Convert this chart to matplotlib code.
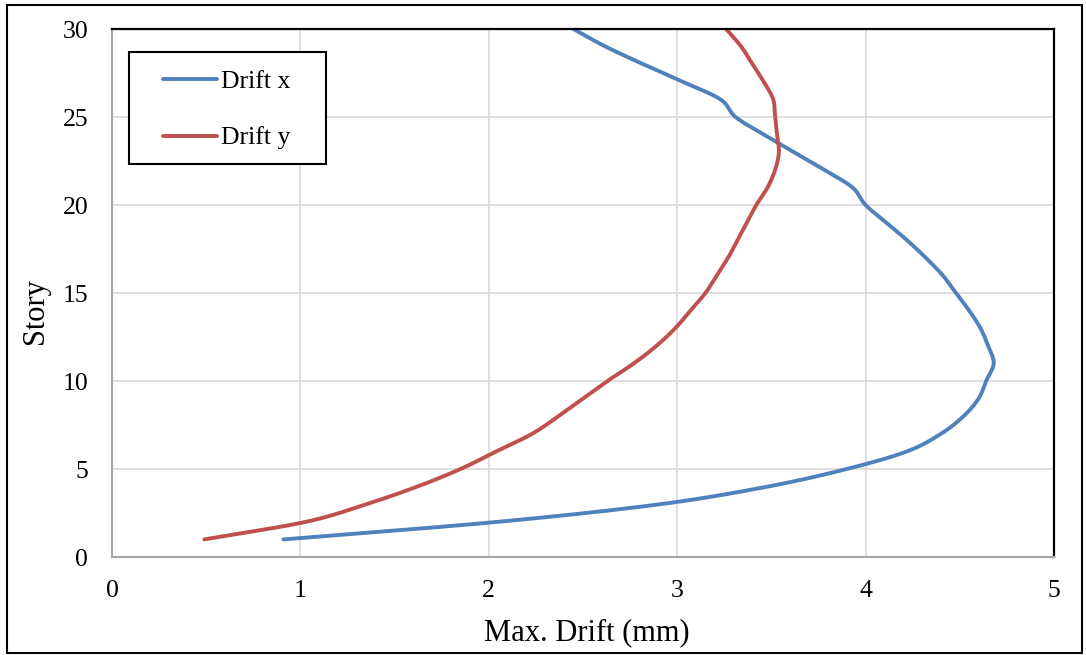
import numpy as np
import matplotlib
matplotlib.use("Agg")
import matplotlib.pyplot as plt
from matplotlib.patches import Rectangle

# story numbers and peak drift per story (mm)
stories = list(range(1, 31))
drift_x = [0.91, 2.05, 2.91, 3.48, 3.90, 4.22, 4.40, 4.52, 4.60, 4.64,
           4.68, 4.65, 4.61, 4.55, 4.48, 4.41, 4.32, 4.22, 4.11, 4.00,
           3.93, 3.78, 3.62, 3.46, 3.31, 3.23, 3.03, 2.82, 2.62, 2.45]
drift_y = [0.49, 1.03, 1.35, 1.62, 1.85, 2.04, 2.23, 2.37, 2.50, 2.63,
           2.77, 2.89, 2.99, 3.07, 3.15, 3.21, 3.27, 3.32, 3.37, 3.42,
           3.48, 3.52, 3.54, 3.53, 3.52, 3.51, 3.46, 3.40, 3.34, 3.26]
x_ticks = [0, 1, 2, 3, 4, 5]
y_ticks = [0, 5, 10, 15, 20, 25, 30]

BLUE = '#4f81bd'
RED = '#c0504d'


def smooth(xs, ys, n=20):
    # Catmull-Rom through every point, like a spreadsheet "smoothed line"
    p = np.column_stack([xs, ys]).astype(float)
    p = np.vstack([2 * p[0] - p[1], p, 2 * p[-1] - p[-2]])
    out = []
    t = np.linspace(0, 1, n, endpoint=False)[:, None]
    for i in range(1, len(p) - 2):
        p0, p1, p2, p3 = p[i - 1], p[i], p[i + 1], p[i + 2]
        seg = 0.5 * ((2 * p1) + (-p0 + p2) * t + (2 * p0 - 5 * p1 + 4 * p2 - p3) * t ** 2
                     + (-p0 + 3 * p1 - 3 * p2 + p3) * t ** 3)
        out.append(seg)
    out.append(p[-2][None, :])
    out = np.vstack(out)
    return out[:, 0], out[:, 1]


plt.rcParams['font.family'] = ['Liberation Serif', 'DejaVu Serif']

fig = plt.figure(figsize=(10.86, 6.55), dpi=100)
ax = fig.add_axes([0.1031, 0.1496, 0.8674, 0.8061])

sx, sy = smooth(drift_x, stories)
ax.plot(sx, sy, color=BLUE, lw=2.8, solid_capstyle='round')
sx, sy = smooth(drift_y, stories)
ax.plot(sx, sy, color=RED, lw=2.8, solid_capstyle='round')

ax.set_xlim(0, 5)
ax.set_ylim(0, 30)
ax.set_xticks(x_ticks)
ax.set_yticks(y_ticks)
ax.grid(True, color='#d9d9d9', lw=1.2)
ax.set_axisbelow(True)
ax.tick_params(length=0, labelsize=18.5)
ax.tick_params(axis='y', pad=17)
ax.tick_params(axis='x', pad=16.5)

for side in ['left', 'bottom']:
    ax.spines[side].set_color('#a6a6a6')
    ax.spines[side].set_linewidth(1.5)
for side in ['top', 'right']:
    ax.spines[side].set_color('black')
    ax.spines[side].set_linewidth(1.6)

ax.set_xlabel('Max. Drift (mm)', fontsize=22)
ax.xaxis.set_label_coords(0.504, -0.115)
ax.set_ylabel('Story', fontsize=22)
ax.yaxis.set_label_coords(-0.066, 0.466)

# legend box, drawn by hand so the inner padding can differ per side
ax.add_patch(Rectangle((0.018, 0.7443), 0.209, 0.2121, transform=ax.transAxes,
                       facecolor='white', edgecolor='black', lw=1.5, zorder=5))
for yk, yt, col, name in [(0.9053, 0.8877, BLUE, 'Drift x'),
                          (0.7973, 0.7822, RED, 'Drift y')]:
    ax.plot([0.0541, 0.1115], [yk, yk], color=col, lw=2.8, transform=ax.transAxes,
            solid_capstyle='round', zorder=6)
    ax.text(0.1157, yt, name, fontsize=18.5, va='baseline', ha='left',
            transform=ax.transAxes, zorder=6)

# border around the whole chart
fig.add_artist(Rectangle((0.00645, 0.00305), 0.9899, 0.9893, transform=fig.transFigure,
                         fill=False, edgecolor='black', lw=1.5))

fig.savefig('out.png', dpi=100)
